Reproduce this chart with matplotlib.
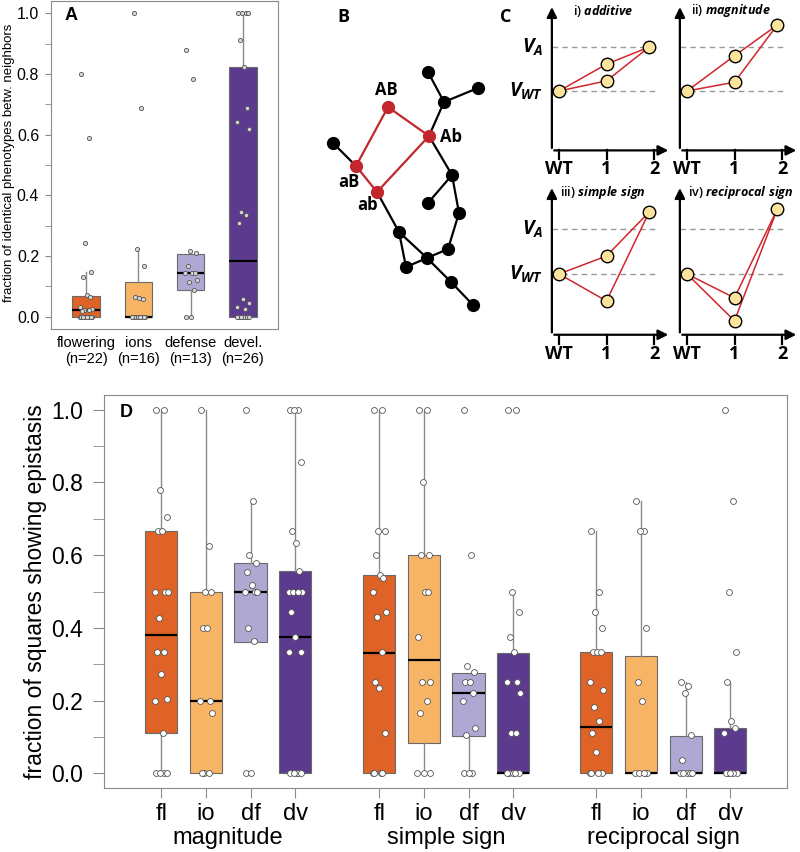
import numpy as np
import matplotlib
matplotlib.use("Agg")
import matplotlib.pyplot as plt

plt.rcParams['font.family'] = ['Liberation Sans', 'DejaVu Sans']
plt.rcParams['mathtext.fontset'] = 'custom'
plt.rcParams['mathtext.it'] = 'Open Sans:italic:bold'
plt.rcParams['mathtext.rm'] = 'Open Sans:bold'

# ---------------- data ----------------
colors = ['#df6326', '#f7b465', '#afa8d3', '#5c3b8f']

# panel A
cat_a = ['flowering\n(n=22)', 'ions\n(n=16)', 'defense\n(n=13)', 'devel.\n(n=26)']
a_q1 = [0, 0, 0.089, 0]
a_med = [0.021, 0, 0.145, 0.185]
a_q3 = [0.069, 0.114, 0.208, 0.824]
a_wlo = [0, 0, 0, 0]
a_whi = [0.149, 0.225, 0.208, 1.0]
a_flowering = [0.80, 0.588, 0.244, 0.149, 0.13, 0.071, 0.066, 0.033, 0.027, 0.024,
               0.022, 0.018, 0, 0, 0, 0, 0, 0, 0, 0, 0, 0]
a_ions = [1.0, 0.688, 0.225, 0.168, 0.064, 0.062, 0.06, 0, 0, 0, 0, 0, 0, 0, 0, 0]
a_defense = [0.879, 0.782, 0.216, 0.21, 0.168, 0.145, 0.145, 0.145, 0.12, 0.114, 0.089, 0, 0]
a_devel = [1, 1, 1, 1, 0.912, 0.824, 0.689, 0.642, 0.619, 0.345, 0.334, 0.31, 0.059,
           0.047, 0.033, 0.027, 0, 0, 0, 0, 0, 0, 0, 0, 0, 0]

# panel B (network layout)
node_x = [388, 429, 356, 377, 333, 444, 428, 478, 452, 428, 459, 399, 448, 427, 406, 451, 473]
node_y = [107, 136, 166, 192, 143, 102, 72, 88, 175, 203, 213, 232, 249, 258, 267, 282, 305]
node_red = [1, 1, 1, 1] + [0] * 13
node_lab = ['AB', 'Ab', 'aB', 'ab']
edges_red = [(0, 1), (0, 2), (2, 3), (3, 1)]
edges_black = [(2, 4), (1, 5), (5, 6), (5, 7), (1, 8), (8, 9), (8, 10), (10, 12), (12, 13),
               (3, 11), (11, 14), (14, 13), (11, 13), (13, 15), (15, 16)]

# panel C (schematic phenotypes, V_WT = 0, V_A = 1)
c_num = ['i)', 'ii)', 'iii)', 'iv)']
c_name = ['additive', 'magnitude', 'simple\\ sign', 'reciprocal\\ sign']
c_single_hi = [0.61, 0.80, 0.40, -0.53]
c_single_lo = [0.23, 0.20, -0.60, -1.04]
c_double = [1.0, 1.5, 1.38, 1.44]

# panel D
d_labels = ['fl', 'io', 'df', 'dv'] * 3
d_groups = ['magnitude', 'simple sign', 'reciprocal sign']
d_q1 = [0.112, 0, 0.361, 0, 0, 0.083, 0.104, 0, 0, 0, 0, 0]
d_med = [0.38, 0.2, 0.5, 0.374, 0.332, 0.313, 0.221, 0, 0.127, 0, 0, 0]
d_q3 = [0.666, 0.5, 0.578, 0.555, 0.545, 0.599, 0.275, 0.332, 0.333, 0.323, 0.104, 0.124]
d_wlo = [0, 0, 0.361, 0, 0, 0, 0, 0, 0, 0, 0, 0]
d_whi = [1, 1, 0.75, 1, 1, 1, 0.275, 0.5, 0.667, 0.75, 0.25, 0.25]
mag_fl = [1, 1, 0.778, 0.705, 0.667, 0.667, 0.5, 0.5, 0.5, 0.428, 0.333, 0.333, 0.272,
          0.205, 0.2, 0.111, 0, 0, 0, 0]
mag_io = [1.0, 0.625, 0.5, 0.5, 0.4, 0.4, 0.2, 0.2, 0.167, 0, 0, 0]
mag_df = [1.0, 0.75, 0.6, 0.578, 0.554, 0.519, 0.5, 0.5, 0.5, 0.4, 0.364, 0, 0]
mag_dv = [1, 1, 1, 0.857, 0.667, 0.632, 0.556, 0.5, 0.5, 0.5, 0.5, 0.444, 0.375, 0.333,
          0.333, 0, 0, 0, 0, 0]
sim_fl = [1, 1, 0.667, 0.667, 0.6, 0.545, 0.538, 0.5, 0.444, 0.43, 0.333, 0.25, 0.235,
          0.111, 0, 0, 0, 0]
sim_io = [1, 1, 0.8, 0.6, 0.6, 0.5, 0.5, 0.375, 0.25, 0.25, 0.2, 0.167, 0, 0, 0]
sim_df = [1.0, 0.6, 0.296, 0.278, 0.25, 0.25, 0.222, 0.2, 0.125, 0.105, 0, 0, 0]
sim_dv = [1, 1, 0.5, 0.444, 0.375, 0.333, 0.25, 0.25, 0.222, 0.111, 0.111, 0, 0, 0, 0, 0]
rec_fl = [0.667, 0.5, 0.444, 0.4, 0.333, 0.333, 0.333, 0.25, 0.23, 0.182, 0.143, 0.111,
          0.059, 0, 0, 0, 0]
rec_io = [0.75, 0.667, 0.667, 0.4, 0.25, 0.2, 0, 0, 0, 0, 0]
rec_df = [0.25, 0.24, 0.222, 0.105, 0.037, 0, 0, 0, 0, 0]
rec_dv = [1.0, 0.75, 0.5, 0.333, 0.25, 0.143, 0.125, 0.111, 0, 0, 0, 0, 0]

W, H = 800, 852
fig = plt.figure(figsize=(W / 100, H / 100), dpi=100)

jit = np.array([-0.09, 0.05, -0.02, 0.1, -0.06, 0.02, 0.08, -0.11, 0.12, -0.04,
                0.06, -0.08, 0.0, 0.11, -0.12, 0.03])
grey = '#8a8a8a'


def box_panel(ax, pos, q1, med, q3, wlo, whi, pts, width, jscale, psize, pface):
    stats = []
    for i in range(len(pos)):
        stats.append(dict(q1=q1[i], med=med[i], q3=q3[i], whislo=wlo[i], whishi=whi[i], fliers=[]))
    b = ax.bxp(stats, positions=pos, widths=width, patch_artist=True, showcaps=False,
               showfliers=False, manage_ticks=False,
               boxprops=dict(edgecolor='#6a6a6a', linewidth=0.8),
               whiskerprops=dict(color=grey, linewidth=1.0),
               medianprops=dict(color='black', linewidth=1.6))
    for i, patch in enumerate(b['boxes']):
        patch.set_facecolor(colors[i % 4])
    for i, p in enumerate(pts):
        n = len(p)
        xs = pos[i] + jit[np.arange(n) % len(jit)] * jscale
        ax.scatter(xs, p, s=psize, facecolor=pface, edgecolor='#555555', linewidth=0.6, zorder=4)
    for sp in ax.spines.values():
        sp.set_color(grey)
    ax.set_ylim(-0.04, 1.04)
    ax.set_yticks(np.arange(0, 1.01, 0.2))
    ax.set_yticks(np.arange(0.1, 1.0, 0.2), minor=True)
    ax.set_yticklabels(['0.0', '0.2', '0.4', '0.6', '0.8', '1.0'])


# ---------------- panel A ----------------
axA = fig.add_axes([51 / W, 1 - 329 / H, 227 / W, 328 / H])
posA = [1, 2, 3, 4]
box_panel(axA, posA, a_q1, a_med, a_q3, a_wlo, a_whi,
          [a_flowering, a_ions, a_defense, a_devel], 0.52, 1.0, 9, '#d9d9d9')
axA.set_xlim(0.33, 4.67)
axA.set_xticks(posA)
axA.set_xticklabels(cat_a, fontsize=10.5, linespacing=1.2)
axA.tick_params(axis='x', length=0, pad=5)
axA.tick_params(axis='y', which='both', length=4.5, color=grey, labelsize=11.5, pad=4)
axA.text(0.09, 0.955, 'A', transform=axA.transAxes, fontsize=13, fontweight='bold',
         ha='center', va='center')
fig.text(9 / W, 1 - 163 / H, 'fraction of identical phenotypes betw. neighbors',
         rotation=90, fontsize=9.5, ha='center', va='center')

# ---------------- panel B ----------------
axB = fig.add_axes([310 / W, 1 - 320 / H, 190 / W, 280 / H])
axB.set_xlim(310, 500)
axB.set_ylim(320, 40)
axB.axis('off')
for a, b in edges_black:
    axB.plot([node_x[a], node_x[b]], [node_y[a], node_y[b]], color='black', lw=1.6, zorder=1)
for a, b in edges_red:
    axB.plot([node_x[a], node_x[b]], [node_y[a], node_y[b]], color='#c1272d', lw=1.6, zorder=1)
for i in range(len(node_x)):
    axB.plot(node_x[i], node_y[i], 'o', ms=8.5, color='#c1272d' if node_red[i] else 'black',
             zorder=2)
lab_off = [(-2, -17), (22, 1), (-7, 16), (-9, 13)]
for i, t in enumerate(node_lab):
    axB.text(node_x[i] + lab_off[i][0], node_y[i] + lab_off[i][1], t, fontsize=12,
             fontweight='bold', family='Open Sans', ha='center', va='center')
fig.text(343 / W, 1 - 17 / H, 'B', fontsize=13, fontweight='bold', family='Open Sans',
         ha='center', va='center')

# ---------------- panel C ----------------
c_orig = [(559, 91, 44), (687, 91, 44), (559, 274, 45), (687, 274, 45)]
ux = 47.5
for k in range(4):
    x0, y0, uy = c_orig[k]
    ax = fig.add_axes([(x0 - 0.3 * ux) / W, 1 - (y0 + 1.6 * uy) / H, 2.7 * ux / W, 3.65 * uy / H])
    ax.set_xlim(-0.3, 2.4)
    ax.set_ylim(-1.6, 2.05)
    ax.axis('off')
    ax.annotate('', xy=(-0.15, 1.97), xytext=(-0.15, -1.36),
                arrowprops=dict(arrowstyle='-|>,head_length=0.6,head_width=0.3', color='black', lw=1.6))
    ax.annotate('', xy=(2.36, -1.35), xytext=(-0.16, -1.35),
                arrowprops=dict(arrowstyle='-|>,head_length=0.6,head_width=0.3', color='black', lw=1.6))
    for tx in [0, 1, 2]:
        ax.plot([tx, tx], [-1.35, -1.55], color='black', lw=1.6)
    for tx, tl in zip([0, 1, 2], ['WT', '1', '2']):
        ax.text(tx, -1.78, tl, fontsize=13, fontweight='bold', family='Open Sans',
                ha='center', va='center')
    for lv in [0, 1]:
        ax.plot([-0.15, 2.08], [lv, lv], color='#999999', lw=1.0, ls=(0, (4, 3)))
    xs = [0, 1, 1, 1.9]
    ys = [0, c_single_hi[k], c_single_lo[k], c_double[k]]
    red = '#d0262c'
    ax.plot([0, 1, 1.9], [0, c_single_hi[k], c_double[k]], color=red, lw=1.1, zorder=2)
    ax.plot([0, 1, 1.9], [0, c_single_lo[k], c_double[k]], color=red, lw=1.1, zorder=2)
    ax.plot(xs, ys, 'o', ms=9, mfc='#fbe39b', mec='black', mew=1.0, zorder=3, clip_on=False)
    tx = 0.93 if k != 3 else 1.13
    ax.text(tx, 1.82, c_num[k] + ' $\\mathit{' + c_name[k] + '}$', fontsize=9,
            family='Open Sans', fontweight='semibold', ha='center', va='center')
    if k in (0, 2):
        ax.text(-0.33, 1.0, '$V_{A}$', fontsize=14, ha='right', va='center')
        ax.text(-0.33, 0.0, '$V_{WT}$', fontsize=14, ha='right', va='center')
fig.text(506 / W, 1 - 17 / H, 'C', fontsize=13, fontweight='bold', family='Open Sans',
         ha='center', va='center')

# ---------------- panel D ----------------
axD = fig.add_axes([104 / W, 1 - 788 / H, 683 / W, 393 / H])
posD = [1, 2, 3, 4, 5.88, 6.88, 7.88, 8.88, 10.74, 11.74, 12.74, 13.74]
box_panel(axD, posD, d_q1, d_med, d_q3, d_wlo, d_whi,
          [mag_fl, mag_io, mag_df, mag_dv, sim_fl, sim_io, sim_df, sim_dv,
           rec_fl, rec_io, rec_df, rec_dv], 0.72, 1.2, 18, 'white')
axD.set_xlim(-0.28, 15.01)
axD.set_xticks(posD)
axD.set_xticklabels(d_labels, fontsize=17)
axD.tick_params(axis='x', length=7.5, color=grey, pad=3)
axD.tick_params(axis='y', which='both', length=8, color=grey, labelsize=16.5, pad=7)
for gi, g in enumerate(d_groups):
    axD.text(np.mean(posD[gi * 4:gi * 4 + 4]), -0.128, g, fontsize=17, ha='center',
             va='center', transform=axD.get_xaxis_transform())
axD.text(0.032, 0.955, 'D', transform=axD.transAxes, fontsize=13, fontweight='bold',
         ha='center', va='center')
axD.set_ylabel('fraction of squares showing epistasis', fontsize=16.5, labelpad=3)

fig.savefig('out.png', dpi=100)
